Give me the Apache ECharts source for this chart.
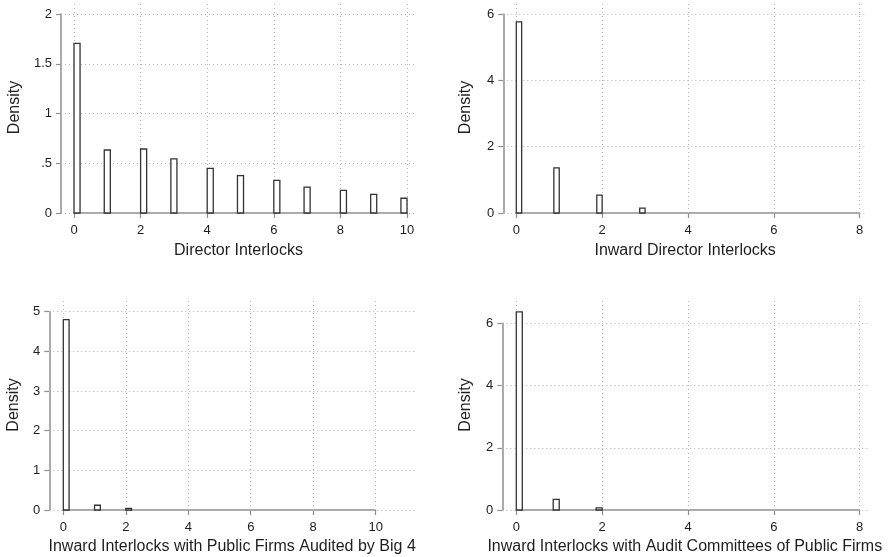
<!DOCTYPE html>
<html><head><meta charset="utf-8">
<script src="https://cdn.jsdelivr.net/npm/echarts@6/dist/echarts.min.js"></script>
<style>html,body{margin:0;padding:0;background:#fff}#c{width:888px;height:557px}</style>
</head><body><div id="c"></div>
<script>
// ---------- DATA ----------
// Panel 1: Director Interlocks
const p1Title = 'Director Interlocks';
const p1BinStart = [0, 0.909, 2, 2.909, 4, 4.909, 6, 6.909, 8, 8.909, 9.818];
const p1BinWidth = 10 / 55;
const p1Density = [1.705, 0.633, 0.643, 0.543, 0.449, 0.375, 0.328, 0.261, 0.228, 0.188, 0.148];
const p1XTicks = [0, 2, 4, 6, 8, 10];
const p1YTicks = [0, 0.5, 1, 1.5, 2];

// Panel 2: Inward Director Interlocks
const p2Title = 'Inward Director Interlocks';
const p2BinStart = [0, 0.875, 1.875, 2.875];
const p2BinWidth = 0.125;
const p2Density = [5.76, 1.36, 0.54, 0.15];
const p2XTicks = [0, 2, 4, 6, 8];
const p2YTicks = [0, 2, 4, 6];

// Panel 3: Inward Interlocks with Public Firms Audited by Big 4
const p3Title = 'Inward Interlocks with Public Firms Audited by Big 4';
const p3BinStart = [0, 1, 2];
const p3BinWidth = 0.185;
const p3Density = [4.80, 0.12, 0.04];
const p3XTicks = [0, 2, 4, 6, 8, 10];
const p3YTicks = [0, 1, 2, 3, 4, 5];

// Panel 4: Inward Interlocks with Audit Committees of Public Firms
const p4Title = 'Inward Interlocks with Audit Committees of Public Firms';
const p4BinStart = [0, 0.86, 1.86];
const p4BinWidth = 0.14;
const p4Density = [6.37, 0.34, 0.07];
const p4XTicks = [0, 2, 4, 6, 8];
const p4YTicks = [0, 2, 4, 6];

// ---------- LAYOUT (pixels) ----------
const layouts = [
  {axisX: 61,    x0: 74,    x1: 407,   bgRight: 416,   yTop: 14,    y0: 213, bgTop: 2,   yNameGap: 38, xNameGap: 30},
  {axisX: 503.3, x0: 516.3, x1: 859.7, bgRight: 867,   yTop: 14,    y0: 213, bgTop: 2,   yNameGap: 30, xNameGap: 30},
  {axisX: 49.3,  x0: 63.3,  x1: 375.7, bgRight: 415,   yTop: 311.7, y0: 510, bgTop: 300, yNameGap: 28, xNameGap: 29},
  {axisX: 502.3, x0: 516.3, x1: 859.7, bgRight: 867.3, yTop: 323.3, y0: 510, bgTop: 300, yNameGap: 29, xNameGap: 29}
];

const panels = [
  {title: p1Title, start: p1BinStart, w: p1BinWidth, dens: p1Density, xt: p1XTicks, yt: p1YTicks},
  {title: p2Title, start: p2BinStart, w: p2BinWidth, dens: p2Density, xt: p2XTicks, yt: p2YTicks},
  {title: p3Title, start: p3BinStart, w: p3BinWidth, dens: p3Density, xt: p3XTicks, yt: p3YTicks},
  {title: p4Title, start: p4BinStart, w: p4BinWidth, dens: p4Density, xt: p4XTicks, yt: p4YTicks}
];

const FONT = '"Liberation Sans", Arial, Helvetica, sans-serif';
const TXT = '#1e1e1e';
const AXC = '#8f8f8f';
const GRIDC = '#b4b4b4';

function fmt(v) {
  let s = String(v);
  if (s.startsWith('0.')) s = s.slice(1);
  return s;
}

const grid = [], xAxis = [], yAxis = [], series = [];
panels.forEach((p, i) => {
  const L = layouts[i];
  const xmin = p.xt[0], xmax = p.xt[p.xt.length - 1];
  const ymin = p.yt[0], ymax = p.yt[p.yt.length - 1];
  const pxX = (L.x1 - L.x0) / (xmax - xmin);
  const pxY = (L.y0 - L.yTop) / (ymax - ymin);
  const xInt = p.xt[1] - p.xt[0], yInt = p.yt[1] - p.yt[0];
  // background grid (gridlines + titles)
  const bgIdx = grid.length;
  grid.push({left: L.axisX, top: L.bgTop, width: L.bgRight - L.axisX, height: L.y0 - L.bgTop, containLabel: false, outerBoundsMode: 'none'});
  xAxis.push({type: 'value', gridIndex: bgIdx,
    min: xmin - (L.x0 - L.axisX) / pxX, max: xmax + (L.bgRight - L.x1) / pxX,
    axisLine: {show: false, onZero: false}, axisTick: {show: false}, axisLabel: {show: false}, splitLine: {show: false},
    name: p.title, nameLocation: 'middle', nameGap: L.xNameGap,
    nameTextStyle: {fontFamily: FONT, fontSize: 16, color: TXT}});
  yAxis.push({type: 'value', gridIndex: bgIdx,
    min: ymin, max: ymax + (L.yTop - L.bgTop) / pxY,
    axisLine: {show: false, onZero: false}, axisTick: {show: false}, axisLabel: {show: false}, splitLine: {show: false},
    name: 'Density', nameLocation: 'middle', nameGap: L.yNameGap, nameRotate: 90,
    nameTextStyle: {fontFamily: FONT, fontSize: 16, color: TXT}});
  const ml = [];
  p.xt.forEach(v => ml.push({xAxis: v}));
  p.yt.forEach(v => ml.push({yAxis: v}));
  series.push({type: 'line', xAxisIndex: bgIdx, yAxisIndex: bgIdx, data: [], silent: true, z: 1,
    markLine: {silent: true, symbol: 'none', label: {show: false}, animation: false,
      lineStyle: {type: [1, 3], color: GRIDC, width: 1}, emphasis: {disabled: true}, data: ml}});
  // front grid (axes + bars)
  const fIdx = grid.length;
  grid.push({left: L.x0, top: L.yTop, width: L.x1 - L.x0, height: L.y0 - L.yTop, containLabel: false, outerBoundsMode: 'none'});
  xAxis.push({type: 'value', gridIndex: fIdx, min: xmin, max: xmax, interval: xInt,
    axisLine: {show: true, onZero: false, lineStyle: {color: AXC, width: 1.5}},
    axisTick: {show: true, length: 5, lineStyle: {color: AXC, width: 1.2}},
    axisLabel: {margin: 11, fontFamily: FONT, fontSize: 13, color: TXT, formatter: fmt},
    splitLine: {show: false}});
  yAxis.push({type: 'value', gridIndex: fIdx, min: ymin, max: ymax, interval: yInt, offset: L.x0 - L.axisX,
    axisLine: {show: true, onZero: false, lineStyle: {color: AXC, width: 1.5}},
    axisTick: {show: true, length: 5, lineStyle: {color: AXC, width: 1.2}},
    axisLabel: {margin: 9, fontFamily: FONT, fontSize: 13, color: TXT, formatter: fmt},
    splitLine: {show: false}});
  series.push({type: 'custom', xAxisIndex: fIdx, yAxisIndex: fIdx, z: 5, silent: true,
    data: p.start.map((s, k) => [s, s + p.w, p.dens[k]]),
    renderItem: function (params, api) {
      const a = api.coord([api.value(0), 0]);
      const b = api.coord([api.value(1), api.value(2)]);
      return {type: 'rect', shape: {x: a[0], y: b[1], width: b[0] - a[0], height: a[1] - b[1]},
        style: {fill: '#ffffff', stroke: '#333333', lineWidth: 1.3}};
    }});
});

const chart = echarts.init(document.getElementById('c'), null, {renderer: 'canvas'});
chart.setOption({animation: false, backgroundColor: '#ffffff', grid, xAxis, yAxis, series});
</script>
</body></html>
